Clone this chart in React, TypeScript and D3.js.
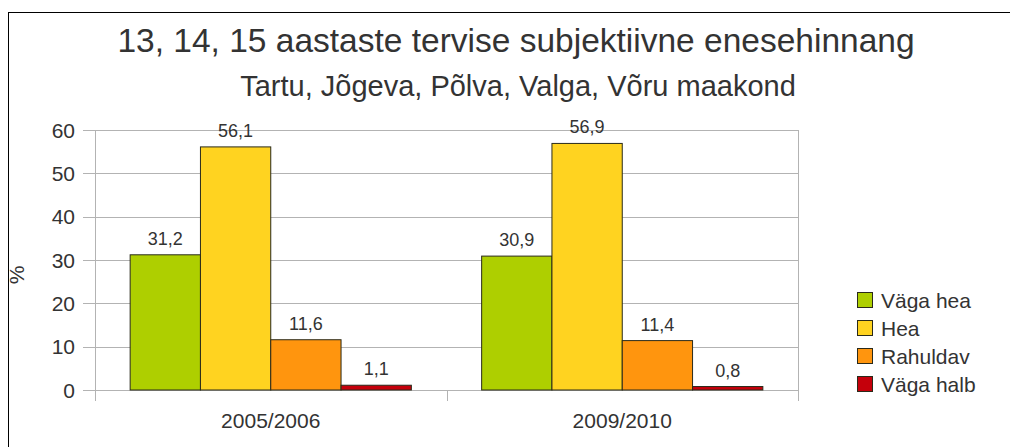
import React, { useEffect, useRef } from 'react';
import * as d3 from 'd3';

const categories = ['2005/2006', '2009/2010'];
const seriesNames = ['Väga hea', 'Hea', 'Rahuldav', 'Väga halb'];
const seriesColors = ['#aecf00', '#ffd320', '#ff950e', '#c5000b'];
const vagaHea = [31.2, 30.9];
const hea = [56.1, 56.9];
const rahuldav = [11.6, 11.4];
const vagaHalb = [1.1, 0.8];
const yTicks = [0, 10, 20, 30, 40, 50, 60];

const W = 1010;
const H = 447;

const App = () => {
  const svgRef = useRef<SVGSVGElement>(null);

  useEffect(() => {
    const svg = d3.select(svgRef.current);
    svg.selectAll('*').remove();

    const font = '"Liberation Sans", Arial, sans-serif';
    const textColor = '#333333';
    const grid = '#b3b3b3';
    const plot = { left: 95, right: 798, top: 130, bottom: 390 };

    const values = [vagaHea, hea, rahuldav, vagaHalb];

    // outer frame
    svg.append('rect')
      .attr('x', 8.5).attr('y', 12.5)
      .attr('width', 1016).attr('height', 450)
      .attr('fill', 'white').attr('stroke', '#000');

    // titles
    svg.append('text')
      .attr('x', 516).attr('y', 52)
      .attr('text-anchor', 'middle')
      .attr('font-family', font).attr('font-size', 33.5)
      .attr('fill', textColor)
      .text('13, 14, 15 aastaste tervise subjektiivne enesehinnang');

    svg.append('text')
      .attr('x', 518).attr('y', 96)
      .attr('text-anchor', 'middle')
      .attr('font-family', font).attr('font-size', 29)
      .attr('fill', textColor)
      .text('Tartu, Jõgeva, Põlva, Valga, Võru maakond');

    const y = d3.scaleLinear().domain([0, 60]).range([plot.bottom, plot.top]);
    const x0 = d3.scaleBand().domain(categories)
      .range([plot.left, plot.right]).paddingInner(0.2).paddingOuter(0.1);
    const xOuter = d3.scaleBand().domain(categories).range([plot.left, plot.right]);
    const x1 = d3.scaleBand().domain(seriesNames).range([0, x0.bandwidth()]);

    // gridlines
    svg.append('g').selectAll('line')
      .data(yTicks)
      .enter().append('line')
      .attr('x1', plot.left - 12).attr('x2', plot.right)
      .attr('y1', d => Math.round(y(d)) + 0.5).attr('y2', d => Math.round(y(d)) + 0.5)
      .attr('stroke', grid);

    // y axis and right edge
    [plot.left, plot.right].forEach(px => {
      svg.append('line')
        .attr('x1', px + 0.5).attr('x2', px + 0.5)
        .attr('y1', plot.top).attr('y2', plot.bottom + 11)
        .attr('stroke', grid);
    });
    // category separators
    svg.append('line')
      .attr('x1', Math.round(xOuter('2009/2010')!) + 0.5)
      .attr('x2', Math.round(xOuter('2009/2010')!) + 0.5)
      .attr('y1', plot.bottom).attr('y2', plot.bottom + 11)
      .attr('stroke', grid);

    // y tick labels
    svg.append('g').selectAll('text')
      .data(yTicks)
      .enter().append('text')
      .attr('x', 75).attr('y', d => y(d) + 7.5)
      .attr('text-anchor', 'end')
      .attr('font-family', font).attr('font-size', 21)
      .attr('fill', textColor)
      .text(d => d);

    // y axis label
    svg.append('text')
      .attr('transform', 'translate(24,275) rotate(-90)')
      .attr('text-anchor', 'middle')
      .attr('font-family', font).attr('font-size', 21)
      .attr('fill', textColor)
      .text('%');

    // x labels
    svg.append('g').selectAll('text')
      .data(categories)
      .enter().append('text')
      .attr('x', d => xOuter(d)! + xOuter.bandwidth() / 2)
      .attr('y', 428)
      .attr('text-anchor', 'middle')
      .attr('font-family', font).attr('font-size', 21)
      .attr('fill', textColor)
      .text(d => d);

    // bars
    const bars = categories.flatMap((c, ci) =>
      seriesNames.map((s, si) => ({ c, s, si, v: values[si][ci] })));

    svg.append('g').selectAll('rect')
      .data(bars)
      .enter().append('rect')
      .attr('x', d => x0(d.c)! + x1(d.s)!)
      .attr('y', d => y(d.v))
      .attr('width', x1.bandwidth())
      .attr('height', d => y(0) - y(d.v))
      .attr('fill', d => seriesColors[d.si])
      .attr('stroke', '#2a2a1a').attr('stroke-width', 1);

    svg.append('g').selectAll('text')
      .data(bars)
      .enter().append('text')
      .attr('x', d => x0(d.c)! + x1(d.s)! + x1.bandwidth() / 2)
      .attr('y', d => y(d.v) - 10)
      .attr('text-anchor', 'middle')
      .attr('font-family', font).attr('font-size', 18)
      .attr('fill', textColor)
      .text(d => d.v.toFixed(1).replace('.', ','));

    // legend
    const legend = svg.append('g').selectAll('g')
      .data(seriesNames)
      .enter().append('g')
      .attr('transform', (d, i) => `translate(857,${292 + i * 28})`);
    legend.append('rect')
      .attr('x', 0.5).attr('y', 0.5)
      .attr('width', 15).attr('height', 15)
      .attr('fill', (d, i) => seriesColors[i])
      .attr('stroke', '#2a2a1a');
    legend.append('text')
      .attr('x', 24).attr('y', 15.5)
      .attr('font-family', font).attr('font-size', 21)
      .attr('fill', textColor)
      .text(d => d);
  }, []);

  return (
    <svg ref={svgRef} width={W} height={H}
      style={{ position: 'absolute', left: 0, top: 0, display: 'block' }} />
  );
};

export default App;
